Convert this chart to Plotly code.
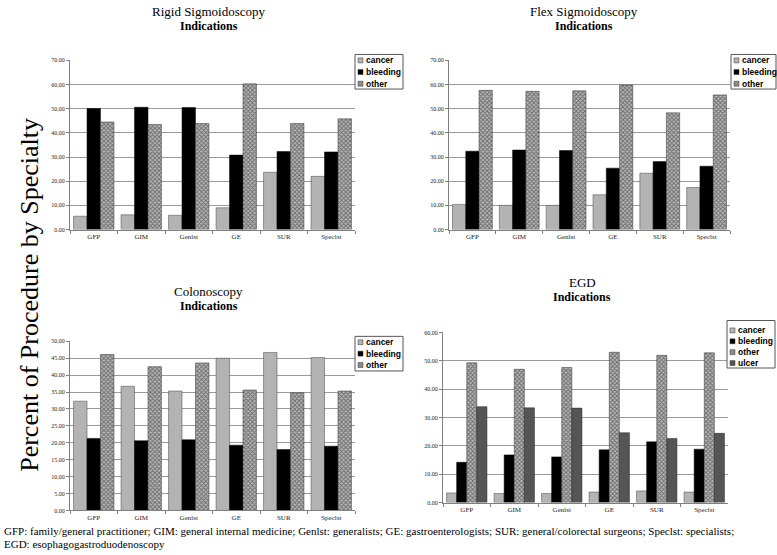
import plotly.graph_objects as go

categories = ["GFP", "GIM", "Genlst", "GE", "SUR", "Speclst"]

rigid_cancer = [5.5, 6.1, 5.9, 9.0, 23.7, 22.0]
rigid_bleeding = [50.1, 50.6, 50.5, 30.8, 32.3, 32.1]
rigid_other = [44.5, 43.5, 43.9, 60.3, 43.9, 45.8]

flex_cancer = [10.4, 10.0, 10.0, 14.4, 23.3, 17.4]
flex_bleeding = [32.4, 32.9, 32.7, 25.4, 28.1, 26.2]
flex_other = [57.6, 57.2, 57.4, 59.8, 48.3, 55.7]

colo_cancer = [32.3, 36.7, 35.3, 45.0, 46.7, 45.2]
colo_bleeding = [21.3, 20.6, 20.9, 19.3, 18.0, 19.0]
colo_other = [46.1, 42.5, 43.6, 35.6, 34.8, 35.3]

egd_cancer = [3.4, 3.2, 3.2, 3.7, 4.1, 3.7]
egd_bleeding = [14.2, 16.8, 16.1, 18.6, 21.4, 18.8]
egd_other = [49.3, 47.0, 47.6, 53.0, 51.9, 52.8]
egd_ulcer = [33.8, 33.4, 33.3, 24.6, 22.6, 24.4]

panel_titles = ["Rigid Sigmoidoscopy", "Flex Sigmoidoscopy", "Colonoscopy", "EGD"]
y_ranges = [70, 70, 50, 60]
y_dticks = [10, 10, 5, 10]

W, H = 777, 555
SERIF = "Liberation Serif, Times New Roman, serif"
SANS = "Liberation Sans, Arial, sans-serif"

def px_x(p):
    return p / W

def px_y(p):
    return 1 - p / H

# plot areas in window pixels: (left, right, top, bottom)
areas = [(70, 355, 58, 229), (449, 730, 58, 229), (70, 355, 342, 513), (443, 728, 333, 505)]

fig = go.Figure()

CANCER_C = "#b3b3b3"
BLEED_C = "#000000"
OTHER_C = "#8c8c8c"
ULCER_C = "#555555"

cancer_style = dict(color=CANCER_C, line=dict(color="#444444", width=0.5))
bleed_style = dict(color=BLEED_C, line=dict(color="#000000", width=0.5))
other_style = dict(color=OTHER_C, line=dict(color="#333333", width=0.5),
                   pattern=dict(shape="x", fgcolor="#1e1e1e", bgcolor="#b8b8b8", size=3, solidity=0.5))
ulcer_style = dict(color=ULCER_C, line=dict(color="#222222", width=0.5))

panels = [
    [("cancer", rigid_cancer, cancer_style, CANCER_C), ("bleeding", rigid_bleeding, bleed_style, BLEED_C),
     ("other", rigid_other, other_style, OTHER_C)],
    [("cancer", flex_cancer, cancer_style, CANCER_C), ("bleeding", flex_bleeding, bleed_style, BLEED_C),
     ("other", flex_other, other_style, OTHER_C)],
    [("cancer", colo_cancer, cancer_style, CANCER_C), ("bleeding", colo_bleeding, bleed_style, BLEED_C),
     ("other", colo_other, other_style, OTHER_C)],
    [("cancer", egd_cancer, cancer_style, CANCER_C), ("bleeding", egd_bleeding, bleed_style, BLEED_C),
     ("other", egd_other, other_style, OTHER_C), ("ulcer", egd_ulcer, ulcer_style, ULCER_C)],
]

# legend boxes in window pixels: (left, top, right, bottom, first item y, item step)
legend_boxes = [(355, 52, 403, 87, 58, 11.8), (731, 52, 776, 87, 58, 11.8),
                (355, 337, 403, 372, 343, 11.5), (727, 321, 775, 369, 331, 11.0)]

layout = dict(
    width=W, height=H,
    margin=dict(l=0, r=0, t=0, b=0),
    paper_bgcolor="white", plot_bgcolor="white",
    barmode="group",
    showlegend=False,
    font=dict(family=SERIF, color="#000"),
    bargap=0.15, bargroupgap=0,
)

shapes = []
annotations = []

for i, series in enumerate(panels):
    xa = "x" if i == 0 else f"x{i+1}"
    ya = "y" if i == 0 else f"y{i+1}"
    for name, vals, style, _ in series:
        fig.add_trace(go.Bar(
            x=categories, y=vals, name=name, marker=style,
            xaxis=xa, yaxis=ya, offsetgroup=name,
        ))
    l, r, t, b = areas[i]
    xkey = "xaxis" if i == 0 else f"xaxis{i+1}"
    ykey = "yaxis" if i == 0 else f"yaxis{i+1}"
    layout[xkey] = dict(
        domain=[px_x(l), px_x(r)], anchor=ya,
        showline=True, linecolor="#808080", linewidth=1,
        ticks="outside", tickson="boundaries", ticklen=3, tickcolor="#808080",
        tickfont=dict(family=SERIF, size=7, color="#222"),
        showgrid=False,
    )
    layout[ykey] = dict(
        domain=[px_y(b), px_y(t)], anchor=xa,
        range=[0, y_ranges[i]], dtick=y_dticks[i], tickformat=".2f",
        showline=True, linecolor="#808080", linewidth=1,
        ticks="outside", ticklen=3, tickcolor="#808080",
        tickfont=dict(family=SERIF, size=6, color="#222"),
        showgrid=True, gridcolor="#9a9a9a", gridwidth=1,
        zeroline=False,
    )
    # legend drawn as box + swatches + text
    bl, bt, br, bb, y0, step = legend_boxes[i]
    shapes.append(dict(type="rect", xref="paper", yref="paper",
                       x0=px_x(bl), x1=px_x(br), y0=px_y(bb), y1=px_y(bt),
                       line=dict(color="#555555", width=1), fillcolor="white", layer="above"))
    for k, (name, _, _, col) in enumerate(series):
        cy = y0 + k * step
        shapes.append(dict(type="rect", xref="paper", yref="paper",
                           x0=px_x(bl + 3), x1=px_x(bl + 8), y0=px_y(cy + 2.5), y1=px_y(cy - 2.5),
                           line=dict(color="#333333", width=0.5), fillcolor=col, layer="above"))
        annotations.append(dict(x=px_x(bl + 9), y=px_y(cy), xref="paper", yref="paper",
                                text=f"<b>{name}</b>", showarrow=False,
                                font=dict(family=SANS, size=8.5, color="#000"),
                                xanchor="left", yanchor="middle"))

# panel titles
title_pos = [(209, 9, 23), (584, 9, 23), (209, 292, 306), (582, 283, 297)]
for (cx, y1, y2), name in zip(title_pos, panel_titles):
    annotations.append(dict(x=px_x(cx), y=px_y(y1), xref="paper", yref="paper", text=name,
                            showarrow=False, font=dict(family=SERIF, size=13, color="#000"),
                            xanchor="center", yanchor="middle"))
    annotations.append(dict(x=px_x(cx), y=px_y(y2), xref="paper", yref="paper", text="<b>Indications</b>",
                            showarrow=False, font=dict(family=SERIF, size=12, color="#000"),
                            xanchor="center", yanchor="middle"))

# big y title
annotations.append(dict(x=px_x(30), y=px_y(295), xref="paper", yref="paper",
                        text="Percent of Procedure by Specialty", textangle=-90,
                        showarrow=False, font=dict(family=SERIF, size=26, color="#000"),
                        xanchor="center", yanchor="middle"))

# caption
annotations.append(dict(x=px_x(2), y=px_y(534), xref="paper", yref="paper",
                        text="GFP: family/general practitioner; GIM: general internal medicine; Genlst: generalists; GE: gastroenterologists; SUR: general/colorectal surgeons; Speclst: specialists;",
                        showarrow=False, font=dict(family=SERIF, size=11, color="#000"),
                        xanchor="left", yanchor="middle"))
annotations.append(dict(x=px_x(2), y=px_y(547), xref="paper", yref="paper",
                        text="EGD: esophagogastroduodenoscopy",
                        showarrow=False, font=dict(family=SERIF, size=11, color="#000"),
                        xanchor="left", yanchor="middle"))

layout["shapes"] = shapes
layout["annotations"] = annotations
fig.update_layout(**layout)

fig.write_html("out.html", config={"displayModeBar": False},
               post_script="document.body.style.margin='0px';document.body.style.overflow='hidden';")
